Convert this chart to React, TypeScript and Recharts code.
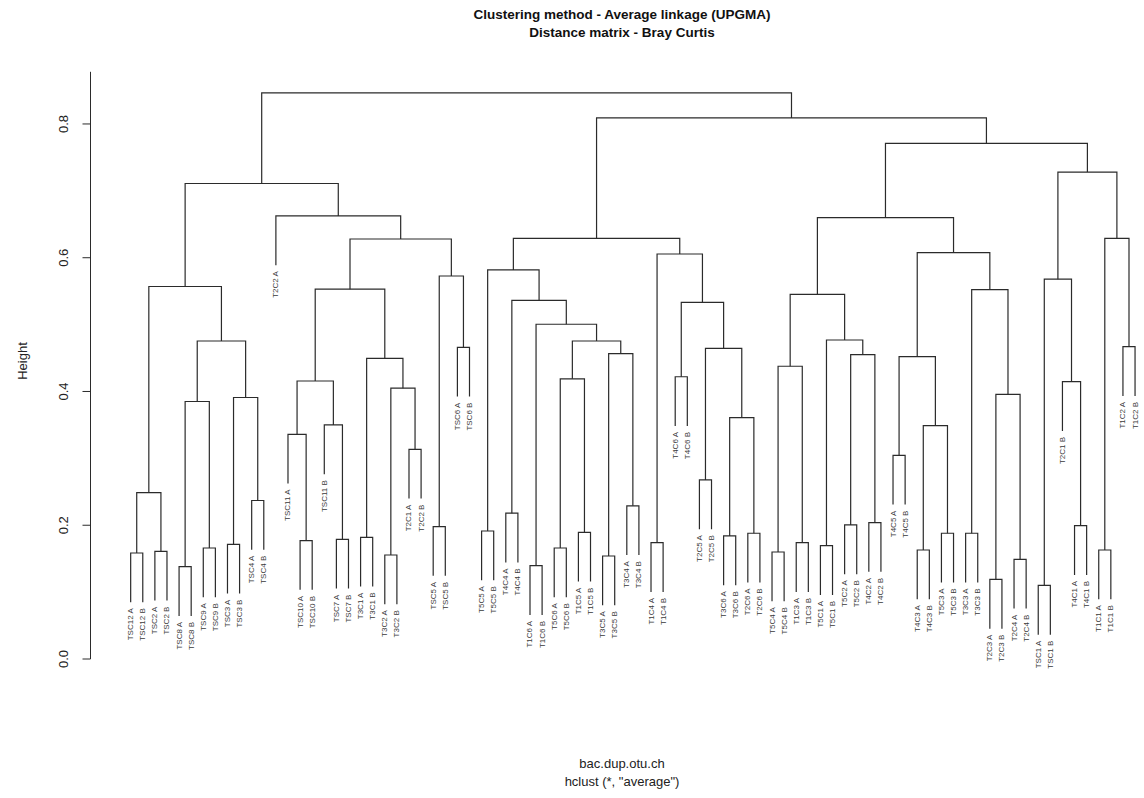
import React from "react";
import { ComposedChart, Line, XAxis, YAxis } from "recharts";

const leafLabels = [
  "TSC12 A", "TSC12 B", "TSC2 A", "TSC2 B", "TSC8 A", "TSC8 B", "TSC9 A", "TSC9 B",
  "TSC3 A", "TSC3 B", "TSC4 A", "TSC4 B", "T2C2 A", "TSC11 A", "TSC10 A", "TSC10 B",
  "TSC11 B", "TSC7 A", "TSC7 B", "T3C1 A", "T3C1 B", "T3C2 A", "T3C2 B", "T2C1 A",
  "T2C2 B", "TSC5 A", "TSC5 B", "TSC6 A", "TSC6 B", "T5C5 A", "T5C5 B", "T4C4 A",
  "T4C4 B", "T1C6 A", "T1C6 B", "T5C6 A", "T5C6 B", "T1C5 A", "T1C5 B", "T3C5 A",
  "T3C5 B", "T3C4 A", "T3C4 B", "T1C4 A", "T1C4 B", "T4C6 A", "T4C6 B", "T2C5 A",
  "T2C5 B", "T3C6 A", "T3C6 B", "T2C6 A", "T2C6 B", "T5C4 A", "T5C4 B", "T1C3 A",
  "T1C3 B", "T5C1 A", "T5C1 B", "T5C2 A", "T5C2 B", "T4C2 A", "T4C2 B", "T4C5 A",
  "T4C5 B", "T4C3 A", "T4C3 B", "T5C3 A", "T5C3 B", "T3C3 A", "T3C3 B", "T2C3 A",
  "T2C3 B", "T2C4 A", "T2C4 B", "TSC1 A", "TSC1 B", "T2C1 B", "T4C1 A", "T4C1 B",
  "T1C1 A", "T1C1 B", "T1C2 A", "T1C2 B",
];

// R-style merge matrix: negative = leaf (1-based, display order), positive = earlier merge
const merges: [number, number][] = [
  [-1, -2], [-3, -4], [1, 2], [-5, -6], [-7, -8], [4, 5], [-9, -10], [-11, -12],
  [7, 8], [6, 9], [3, 10], [-15, -16], [-14, 12], [-18, -19], [-17, 14], [13, 15],
  [-20, -21], [-22, -23], [-24, -25], [18, 19], [17, 20], [16, 21], [-26, -27], [-28, -29],
  [23, 24], [22, 25], [-13, 26], [11, 27], [-30, -31], [-32, -33], [-34, -35], [-36, -37],
  [-38, -39], [32, 33], [-40, -41], [-42, -43], [35, 36], [34, 37], [31, 38], [30, 39],
  [29, 40], [-44, -45], [-46, -47], [-48, -49], [-50, -51], [-52, -53], [45, 46], [44, 47],
  [43, 48], [42, 49], [41, 50], [-54, -55], [-56, -57], [52, 53], [-58, -59], [-60, -61],
  [-62, -63], [56, 57], [55, 58], [54, 59], [-64, -65], [-66, -67], [-68, -69], [62, 63],
  [61, 64], [-70, -71], [-72, -73], [-74, -75], [67, 68], [66, 69], [65, 70], [60, 71],
  [-76, -77], [-79, -80], [-78, 74], [73, 75], [-81, -82], [-83, -84], [77, 78], [76, 79],
  [72, 80], [51, 81], [28, 82],
];

const mergeHeights = [
  0.1585, 0.161, 0.2487, 0.138, 0.166, 0.385, 0.1715, 0.237,
  0.391, 0.4755, 0.557, 0.177, 0.336, 0.179, 0.35, 0.4157,
  0.182, 0.1555, 0.3135, 0.405, 0.4496, 0.553, 0.198, 0.466,
  0.5727, 0.628, 0.6625, 0.711, 0.1914, 0.218, 0.1396, 0.166,
  0.1894, 0.419, 0.154, 0.229, 0.4566, 0.4755, 0.5005, 0.5363,
  0.5817, 0.174, 0.422, 0.2677, 0.184, 0.188, 0.361, 0.4645,
  0.5333, 0.6056, 0.629, 0.16, 0.174, 0.4377, 0.1695, 0.2004,
  0.204, 0.455, 0.477, 0.5453, 0.3046, 0.163, 0.188, 0.349,
  0.452, 0.188, 0.119, 0.149, 0.3958, 0.5523, 0.6076, 0.66,
  0.11, 0.1994, 0.4147, 0.568, 0.163, 0.467, 0.629, 0.728,
  0.771, 0.809, 0.8464,
];

const yTicks = [0, 0.2, 0.4, 0.6, 0.8];
const HANG = 0.1;

const titleLines = ["Clustering method - Average linkage (UPGMA)", "Distance matrix - Bray Curtis"];
const subLines = ["bac.dup.otu.ch", 'hclust (*, "average")'];
const yLabel = "Height";

// Build dendrogram segments from the merge table
const hangAmt = HANG * (Math.max(...mergeHeights) - Math.min(...mergeHeights));
const nodeX: number[] = [];
const leafTipY: number[] = new Array(leafLabels.length).fill(0);
const links = merges.map(([a, b], i) => {
  const h = mergeHeights[i];
  const pos = (c: number) => {
    if (c < 0) {
      leafTipY[-c - 1] = h - hangAmt;
      return { x: -c, y: h - hangAmt };
    }
    return { x: nodeX[c - 1], y: mergeHeights[c - 1] };
  };
  const pa = pos(a);
  const pb = pos(b);
  nodeX[i] = (pa.x + pb.x) / 2;
  return [
    { x: pa.x, y: pa.y },
    { x: pa.x, y: h },
    { x: pb.x, y: h },
    { x: pb.x, y: pb.y },
  ];
});
const leafTips = leafLabels.map((label, i) => ({ x: i + 1, y: leafTipY[i], label }));

const FONT = "'Liberation Sans', Arial, Helvetica, sans-serif";
const LINE = "#2b2b2b";

const renderLeafLabel = (props: any) => {
  const { cx, cy, payload, index } = props;
  const ty = cy + 6;
  return (
    <text
      key={`leaf-${index}`}
      x={cx}
      y={ty}
      transform={`rotate(-90, ${cx}, ${ty})`}
      textAnchor="end"
      dominantBaseline="central"
      fontSize={8}
      fill="#3a3a3a"
      fontFamily={FONT}
    >
      {payload.label}
    </text>
  );
};

const renderYTick = (props: any) => {
  const { x, y, payload } = props;
  const tx = x - 17;
  return (
    <text
      x={tx}
      y={y}
      transform={`rotate(-90, ${tx}, ${y})`}
      textAnchor="middle"
      dominantBaseline="central"
      fontSize={13}
      fill="#222"
      fontFamily={FONT}
    >
      {Number(payload.value).toFixed(1)}
    </text>
  );
};

export default function App() {
  return (
    <div style={{ position: "relative", width: 1144, height: 798, background: "#fff" }}>
      <style>{"body{margin:0;overflow:hidden;background:#fff}"}</style>
      <ComposedChart
        width={1144}
        height={798}
        margin={{ top: 71.8, right: 0, bottom: 139, left: 0 }}
      >
        <XAxis type="number" dataKey="x" domain={[-2.32, 84.74]} hide />
        <YAxis
          type="number"
          domain={[0, 0.878]}
          ticks={yTicks}
          width={90.5}
          tickSize={8}
          tick={renderYTick}
          axisLine={{ stroke: LINE, strokeWidth: 1 }}
          tickLine={{ stroke: LINE, strokeWidth: 1 }}
        />
        {links.map((pts, i) => (
          <Line
            key={`link-${i}`}
            data={pts}
            dataKey="y"
            type="linear"
            stroke={LINE}
            strokeWidth={1.2}
            dot={false}
            activeDot={false}
            isAnimationActive={false}
          />
        ))}
        <Line
          data={leafTips}
          dataKey="y"
          stroke="none"
          dot={renderLeafLabel}
          activeDot={false}
          isAnimationActive={false}
        />
      </ComposedChart>
      <svg
        width={1144}
        height={798}
        style={{ position: "absolute", left: 0, top: 0, pointerEvents: "none" }}
      >
        <text x={622} y={19} textAnchor="middle" fontSize={13.5} fontWeight="bold" fontFamily={FONT} fill="#111">
          {titleLines[0]}
        </text>
        <text x={622} y={37} textAnchor="middle" fontSize={13.5} fontWeight="bold" fontFamily={FONT} fill="#111">
          {titleLines[1]}
        </text>
        <text x={622} y={768} textAnchor="middle" fontSize={13} fontFamily={FONT} fill="#222">
          {subLines[0]}
        </text>
        <text x={622} y={786} textAnchor="middle" fontSize={13} fontFamily={FONT} fill="#222">
          {subLines[1]}
        </text>
        <text
          x={22}
          y={361}
          transform="rotate(-90, 22, 361)"
          textAnchor="middle"
          dominantBaseline="central"
          fontSize={13}
          fontFamily={FONT}
          fill="#222"
        >
          {yLabel}
        </text>
      </svg>
    </div>
  );
}
